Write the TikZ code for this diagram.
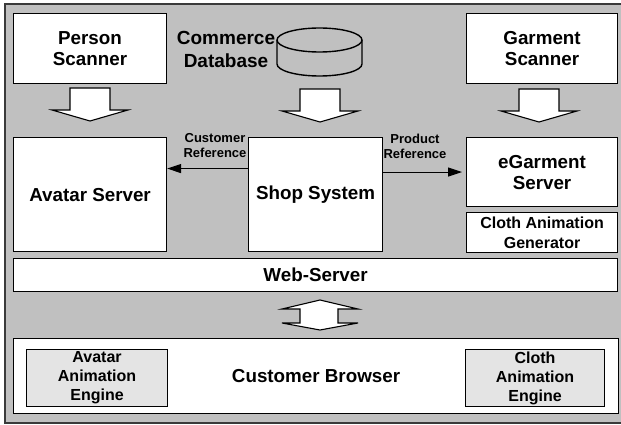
\documentclass[tikz,border=0pt]{standalone}
\usepackage{fontspec}
\setmainfont{Liberation Sans}
\usetikzlibrary{arrows.meta}
\definecolor{panel}{HTML}{C0C0C0}
\definecolor{enginegray}{HTML}{E4E4E4}
\definecolor{framegray}{HTML}{3A3A3A}
\tikzset{
  pics/downblock/.style={code={
    \draw[block] (-20,0) -- (20,0) -- (20,-22) -- (38,-22) -- (0,-33)
                 -- (-38,-22) -- (-20,-22) -- cycle;}},
}
\begin{document}
\begin{tikzpicture}[x=1pt,y=1pt,
  box/.style={draw, line width=1.1pt, fill=white, inner sep=0pt, anchor=north west,
              align=center, font=\bfseries\fontsize{18.8}{21}\selectfont},
  engine/.style={box, fill=enginegray, font=\bfseries\fontsize{16}{19}\selectfont},
  reflabel/.style={font=\bfseries\fontsize{13}{15}\selectfont, align=center, inner sep=0pt},
  ref/.style={line width=1.1pt, -{Triangle[length=14pt,width=9pt]}},
  block/.style={draw, line width=1.1pt, fill=white, line join=miter},
  dbline/.style={line width=1.4pt},
]
\useasboundingbox (0,0) rectangle (621,-425);
% panel
\fill[panel] (5,-4) rectangle (621,-423);
\draw[framegray, line width=1.3pt] (621,-4) -- (5,-4) -- (5,-423) -- (621,-423);

% sources
\node[box, minimum width=153pt, minimum height=70pt] (person) at (13,-13) {Person\\Scanner};
\node[box, minimum width=151pt, minimum height=70pt] (garment) at (466,-13) {Garment\\Scanner};
\node[font=\bfseries\fontsize{19}{23}\selectfont, align=center, inner sep=0pt] (dbname) at (226,-49) {Commerce\\Database};

% database cylinder
\coordinate (db) at (319.5,-52);
\draw[dbline] (319.5,-40) ellipse [x radius=42.5pt, y radius=12pt];
\draw[dbline] (277,-40) -- (277,-64) arc[start angle=180, end angle=360, x radius=42.5pt, y radius=12pt] -- (362,-40);

% feed arrows
\pic at (90,-88) {downblock};
\pic at (320,-89) {downblock};
\pic at (539,-89) {downblock};

% servers
\node[box, minimum width=153pt, minimum height=114pt] (avatar) at (13,-137) {Avatar Server};
\node[box, minimum width=134pt, minimum height=114pt] (shop) at (248,-137) {Shop System};
\node[box, minimum width=151pt, minimum height=69pt] (egarment) at (466,-137) {eGarment\\Server};
\node[box, minimum width=151pt, minimum height=40pt, font=\bfseries\fontsize{16}{20}\selectfont] (clothgen) at (466,-212) {Cloth Animation\\Generator};
\node[box, minimum width=604pt, minimum height=33pt] (web) at (13,-258) {Web-Server};

% references between shop and servers
\draw[ref] ([yshift=26pt]shop.west) -- ([yshift=26pt]avatar.east);
\draw[ref] (shop.east |- egarment.west) -- ([xshift=-4pt]egarment.west);
\node[reflabel] (custref) at (215,-146) {Customer\\Reference};
\node[reflabel] (prodref) at (415,-146) {Product\\Reference};

% two-way link to the browser
\draw[block] (300,-309) -- (282,-309) -- (320,-300) -- (358,-309) -- (338,-309)
  -- (338,-323) -- (358,-323) -- (320,-330) -- (282,-323) -- (300,-323) -- cycle;

% client side
\node[box, minimum width=605pt, minimum height=75pt] (browser) at (13,-338) {Customer Browser};
\node[engine, minimum width=141pt, minimum height=57pt] (avengine) at (26,-349) {Avatar\\Animation\\Engine};
\node[engine, minimum width=139pt, minimum height=57pt] (clengine) at (465,-349) {Cloth\\Animation\\Engine};
\end{tikzpicture}
\end{document}
